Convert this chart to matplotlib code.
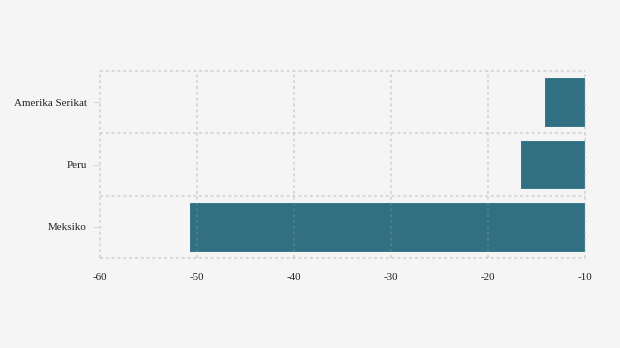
import matplotlib
matplotlib.use("Agg")
import matplotlib.pyplot as plt
from matplotlib.ticker import FixedLocator

categories = ["Amerika Serikat", "Peru", "Meksiko"]
values = [-14.2, -16.7, -50.8]
xticks = [-60, -50, -40, -30, -20, -10]
base = -10

plt.rcParams['font.family'] = ['Liberation Serif', 'DejaVu Serif']

fig = plt.figure(figsize=(6.2, 3.48), dpi=100)
fig.patch.set_facecolor('#f5f5f5')
ax = fig.add_axes([100/620, 1 - 258/348, 485/620, 187/348])
ax.set_facecolor('#f5f5f5')

ypos = list(range(len(categories)))[::-1]
widths = [v - base for v in values]
ax.barh(ypos, widths, left=base, height=0.8, color='#307082',
        edgecolor='#f5f5f5', linewidth=0.8, zorder=2)

ax.set_xlim(-60, -10)
ax.set_ylim(-0.5, len(categories) - 0.5)
ax.set_xticks(xticks)
ax.set_xticklabels([str(t) for t in xticks])
ax.set_yticks(ypos)
ax.set_yticklabels(categories)
ax.yaxis.set_minor_locator(FixedLocator([y + 0.5 for y in range(-1, len(categories))]))

gkw = dict(color='#9a9a9a', linestyle=(0, (1.4, 1.4)), linewidth=1.5, alpha=0.3, zorder=3)
ax.grid(axis='x', which='major', **gkw)
ax.grid(axis='y', which='minor', **gkw)
ax.set_axisbelow(False)

for s in ax.spines.values():
    s.set_visible(False)

ax.tick_params(axis='x', length=0, pad=11, labelsize=7.9, colors='#222222')
ax.tick_params(axis='y', which='major', length=5, width=0.8, color='#dadada', pad=4.5, labelsize=7.9, labelcolor='#222222')
ax.tick_params(axis='y', which='minor', length=0)

for t in ax.xaxis.get_major_ticks() + ax.yaxis.get_minor_ticks():
    t.gridline.set_clip_on(False)

fig.savefig('out.png', dpi=100, facecolor=fig.get_facecolor())
